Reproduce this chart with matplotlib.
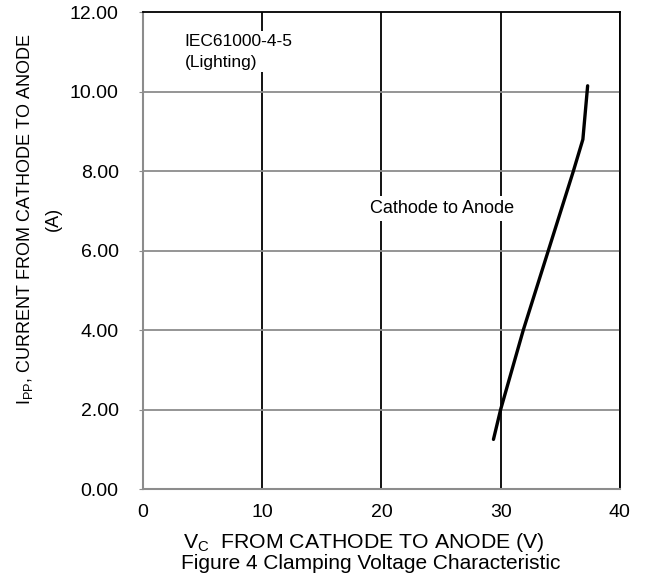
import matplotlib
matplotlib.use('Agg')
import matplotlib.pyplot as plt

plt.rcParams['font.family'] = ['Liberation Sans', 'DejaVu Sans']
plt.rcParams['mathtext.fontset'] = 'custom'
plt.rcParams['mathtext.rm'] = 'Liberation Sans'
plt.rcParams['mathtext.it'] = 'Liberation Sans:italic'

# clamping curve, cathode to anode
vc = [29.4, 30.0, 31.9, 34.0, 36.1, 36.9, 37.3]
ipp = [1.25, 2.0, 4.0, 6.0, 8.0, 8.8, 10.15]

x_ticks = [0, 10, 20, 30, 40]
y_ticks = [0, 2, 4, 6, 8, 10, 12]

fig = plt.figure(figsize=(6.47, 5.85), dpi=100)
ax = fig.add_axes([0.221, 0.164, 0.737, 0.815])

ax.set_xlim(0, 40)
ax.set_ylim(0, 12)
ax.set_xticks(x_ticks)
ax.set_yticks(y_ticks)
ax.set_yticklabels(['%.2f' % v for v in y_ticks])

# grid: vertical black, horizontal gray
for v in x_ticks[1:]:
    ax.axvline(v, color='black', lw=1.3, zorder=1)
for v in y_ticks[1:-1]:
    ax.axhline(v, color='#8c8c8c', lw=1.3, zorder=1)

ax.plot(vc, ipp, color='black', lw=2.4, solid_capstyle='round', zorder=3)

for s in ['left', 'bottom']:
    ax.spines[s].set_color('#8c8c8c')
    ax.spines[s].set_linewidth(1.5)
for s in ['top', 'right']:
    ax.spines[s].set_color('black')
    ax.spines[s].set_linewidth(1.3)

ax.tick_params(axis='y', length=3, color='#8c8c8c', labelsize=14, pad=14.5)
ax.tick_params(axis='x', length=0, labelsize=14, pad=11)

ax.text(3.5, 11.45, 'IEC61000-4-5\n(Lighting)', fontsize=12.5, ha='left', va='top',
        linespacing=1.45, zorder=4,
        bbox=dict(facecolor='white', edgecolor='none', pad=2))
ax.text(25.1, 7.07, 'Cathode to Anode', fontsize=13, ha='center', va='center',
        zorder=4, bbox=dict(facecolor='white', edgecolor='none', pad=3))

fig.text(0.059, 0.626, '$\\mathrm{I_{PP}}$, CURRENT FROM CATHODE TO ANODE\n(A)',
         fontsize=13, rotation=90, ha='center', va='center', linespacing=1.75,
         multialignment='center')

fig.text(0.563, 0.072, '$\\mathrm{V_C}$  FROM CATHODE TO ANODE (V)', fontsize=15.3,
         ha='center', va='center')
fig.text(0.573, 0.037, 'Figure 4 Clamping Voltage Characteristic', fontsize=15,
         ha='center', va='center')

fig.savefig('out.png', dpi=100)
